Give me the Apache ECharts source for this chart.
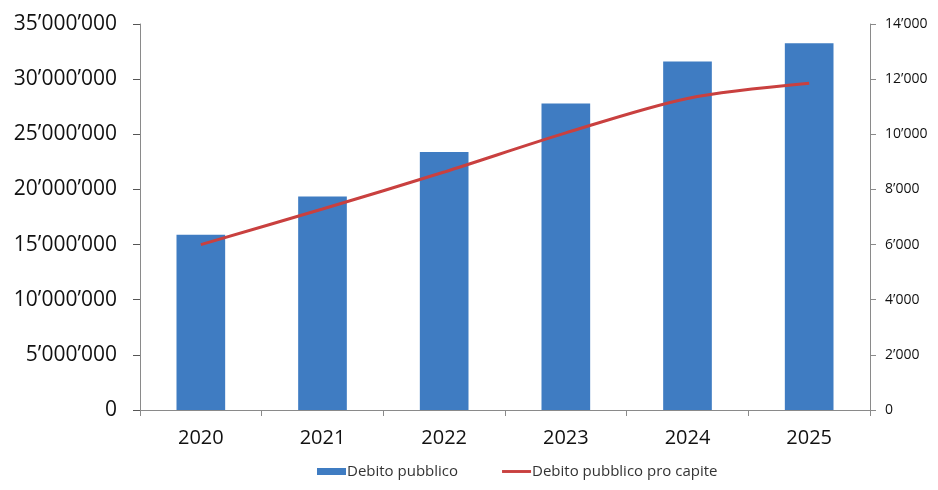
<!DOCTYPE html>
<html>
<head>
<meta charset="utf-8">
<script src="https://cdn.jsdelivr.net/npm/echarts@6/dist/echarts.min.js"></script>
<style>
  html, body { margin: 0; padding: 0; background: #fff; }
  #chart { width: 938px; height: 490px; }
</style>
</head>
<body>
<div id="chart"></div>
<script>
// data
var years = ['2020', '2021', '2022', '2023', '2024', '2025'];
var debito = [15900000, 19350000, 23400000, 27800000, 31600000, 33250000];
var proCapite = [6000, 7290, 8630, 10050, 11300, 11850];

// thousands separator with apostrophe
function fmt(v) {
  return String(Math.round(v)).replace(/\B(?=(\d{3})+(?!\d))/g, '\u2019');
}

var chart = echarts.init(document.getElementById('chart'));
var font = 'Open Sans';

chart.setOption({
  animation: false,
  textStyle: { fontFamily: font },
  grid: { left: 140, right: 68, top: 24, bottom: 80 },
  legend: {
    bottom: 6,
    left: 312,
    itemGap: 44,
    itemWidth: 29,
    itemHeight: 7,
    textStyle: { fontSize: 15, color: '#333', fontFamily: font, padding: [0, 0, 0, -4] },
    data: [
      { name: 'Debito pubblico', icon: 'rect' },
      { name: 'Debito pubblico pro capite', icon: 'path://M0,0h30v3h-30z' }
    ]
  },
  xAxis: {
    type: 'category',
    data: years,
    axisLine: { lineStyle: { color: '#8a8a8a', width: 1 } },
    axisTick: { show: true, length: 6, lineStyle: { color: '#8a8a8a' } },
    axisLabel: { fontSize: 20, color: '#111', margin: 18 }
  },
  yAxis: [
    {
      type: 'value',
      min: 0,
      max: 35000000,
      interval: 5000000,
      splitLine: { show: false },
      axisLine: { show: true, lineStyle: { color: '#8a8a8a' } },
      axisTick: { show: true, length: 7, lineStyle: { color: '#555' } },
      axisLabel: { fontSize: 21, color: '#111', margin: 23, formatter: fmt }
    },
    {
      type: 'value',
      min: 0,
      max: 14000,
      interval: 2000,
      splitLine: { show: false },
      axisLine: { show: true, lineStyle: { color: '#8a8a8a' } },
      axisTick: { show: true, length: 6, lineStyle: { color: '#8a8a8a' } },
      axisLabel: { fontSize: 14, color: '#111', margin: 15, formatter: fmt }
    }
  ],
  series: [
    {
      name: 'Debito pubblico',
      type: 'bar',
      data: debito,
      barWidth: '40%',
      itemStyle: { color: '#3f7cc2' }
    },
    {
      name: 'Debito pubblico pro capite',
      type: 'line',
      yAxisIndex: 1,
      data: proCapite,
      smooth: 0.3,
      symbol: 'none',
      lineStyle: { color: '#c9403f', width: 3 },
      itemStyle: { color: '#c9403f' }
    }
  ]
});
</script>
</body>
</html>
